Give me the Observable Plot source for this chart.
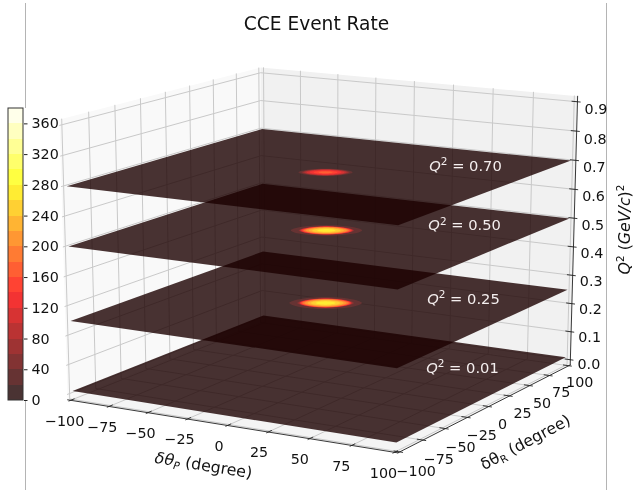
<!DOCTYPE html>
<html>
<head>
<meta charset="utf-8">
<script src="https://cdn.jsdelivr.net/npm/d3@7"></script>
<script src="https://cdn.jsdelivr.net/npm/@observablehq/plot@0.6"></script>
<style>
html,body{margin:0;padding:0;background:#fff}
#chart{position:relative;width:633px;height:490px;overflow:hidden}
#chart svg{position:absolute;left:0;top:0;background:transparent;display:block;filter:blur(.3px)}
</style>
</head>
<body>
<div id="chart"></div>
<script>
// ---- values ----
const titleText = "CCE Event Rate";
const sheets = [0.01, 0.25, 0.50, 0.70];
const xTicks = [-100,-75,-50,-25,0,25,50,75,100];
const yTicks = [-100,-75,-50,-25,0,25,50,75,100];
const zTicks = [0,0.1,0.2,0.3,0.4,0.5,0.6,0.7,0.8,0.9];
const barTicks = [0,40,80,120,160,200,240,280,320,360];
const bandStep = 20;
const bandCount = 19;
// half-length (degree) of each event-rate contour, from level 20 upward
const contour70 = [14.7,13,12.2,11.4,10.3,8.7,6.5,3.8];
const contour50 = [19.5,15.2,14.8,14.4,14.1,13.8,13.3,12.8,12.2,11.2,9.6,7.8,5];
const contour25 = [20,15.7,15,14.5,14.2,14,13.6,13.2,12.6,11.5,10,8.2,5.5];
const blobs = [
  {q:0.70, r:contour70, cx:-0.7, cy:2.35},
  {q:0.50, r:contour50, cx:-1.5, cy:4.7},
  {q:0.25, r:contour25, cx:-1.9, cy:4.5}
];

// ---- camera (elev 15, azim -60) ----
const el = 15*Math.PI/180, az = -60*Math.PI/180, dist = 8, zBox = 0.9;
const R = [-Math.sin(az), Math.cos(az), 0];
const U = [-Math.sin(el)*Math.cos(az), -Math.sin(el)*Math.sin(az), Math.cos(el)];
const N = [Math.cos(el)*Math.cos(az), Math.cos(el)*Math.sin(az), Math.sin(el)];
const dot = (a,b)=>a[0]*b[0]+a[1]*b[1]+a[2]*b[2];
const CX=324, CY=246.4, SX=366, SY=302.9;
function P(x,y,z){
  const p=[(x+100)/200-.5,(y+100)/200-.5,(z/.9-.5)*zBox];
  const f=dist/(dist-dot(p,N));
  return {px:CX+SX*dot(p,R)*f, py:CY-SY*dot(p,U)*f};
}
const PAD=2, ZMIN=-0.01875, ZMAX=0.91875, M=100+PAD;
const IN=3.33, OUT=1.67;

// ---- colours: matplotlib "hot" at alpha .8 over white ----
const clamp=v=>Math.max(0,Math.min(1,v));
const hot=t=>[clamp(.0416+t/.365*.9584),clamp((t-.365)/.381),clamp((t-.746)/.254)];
const bandT=i=>(i+.5)/bandCount;
const toCss=c=>`rgb(${c.map(v=>Math.round(v*255)).join(",")})`;
const raw=i=>toCss(hot(bandT(i)));
const blended=i=>toCss(hot(bandT(i)).map(v=>.8*v+.2));
const thresholds=d3.range(1,bandCount).map(i=>i*bandStep);
const colorScale={type:"threshold",domain:thresholds,range:d3.range(bandCount).map(blended)};
const ALPHA=.8;

// ---- geometry built from the values ----
const poly=(id,pts)=>pts.map(p=>({id,...P(...p)}));
const sheetRows=sheets.map(z=>poly("s"+z,[[-100,-100,z],[100,-100,z],[100,100,z],[-100,100,z]]));
const paneLeft=poly("l",[[-M,-M,ZMIN],[-M,M,ZMIN],[-M,M,ZMAX],[-M,-M,ZMAX]]);
const paneRight=poly("r",[[-M,M,ZMIN],[M,M,ZMIN],[M,M,ZMAX],[-M,M,ZMAX]]);
const paneFloor=poly("f",[[-M,-M,ZMIN],[M,-M,ZMIN],[M,M,ZMIN],[-M,M,ZMIN]]);
const gridRows=[
  ...xTicks.flatMap(x=>poly("gx"+x,[[x,-M,ZMIN],[x,M,ZMIN],[x,M,ZMAX]])),
  ...yTicks.flatMap(y=>poly("gy"+y,[[M,y,ZMIN],[-M,y,ZMIN],[-M,y,ZMAX]])),
  ...zTicks.flatMap(z=>poly("gz"+z,[[-M,-M,z],[-M,M,z],[M,M,z]]))
];
const axisRows=[
  ...poly("ax",[[-M,-M,ZMIN],[M,-M,ZMIN]]),
  ...poly("ay",[[M,-M,ZMIN],[M,M,ZMIN]]),
  ...poly("az",[[M,M,ZMIN],[M,M,ZMAX]])
];
const tickRows=[
  ...xTicks.flatMap(x=>poly("tx"+x,[[x,-M-OUT,ZMIN],[x,-M+IN,ZMIN]])),
  ...yTicks.flatMap(y=>poly("ty"+y,[[M+OUT,y,ZMIN],[M-IN,y,ZMIN]])),
  ...zTicks.flatMap(z=>poly("tz"+z,[[M-IN,M,z],[M+OUT,M,z]]))
];
const along=[Math.cos(Math.PI/6),.5], across=[.5,-Math.cos(Math.PI/6)];
const lens=(A,B,cx,cy,q,id)=>d3.range(0,48).map(k=>{
  const t=k/48*2*Math.PI,c=Math.cos(t),s=Math.sin(t),e=1.12;
  const a=A*Math.sign(c)*Math.abs(c)**e,b=B*Math.sign(s)*Math.abs(s)**e;
  return {id,...P(cx+a*along[0]+b*across[0],cy+a*along[1]+b*across[1],q)};
});
function blobMarks(b){
  const rows=b.r.flatMap((A,i)=>lens(A,A*.72,b.cx,b.cy,b.q,`b${b.q}-${i}`).map(d=>({...d,level:(i+1)*bandStep+1})));
  return Plot.line(rows,{x:"px",y:"py",z:"id",fill:"level",stroke:"none",curve:"linear-closed"});
}
const fmt=d=>d<0?`\u2212${-d}`:`${d}`;
const xLabels=xTicks.map(x=>{const t=(x+100)/200,p=P(x,-M,ZMIN);return {text:fmt(x),x:p.px-6-5*t,y:p.py+20.8};});
const yLabels=yTicks.map(y=>{const t=(y+100)/200,p=P(M,y,ZMIN);return {text:fmt(y),x:p.px+16.5-5.5*t,y:p.py+19.6-3*t};});
const zLabels=zTicks.map(z=>{const p=P(M,M,z);return {text:z.toFixed(1),x:p.px+18.5,y:p.py+5+3.5*z};});
const tickLabels=[...xLabels,...yLabels,...zLabels];
const qLabels=sheets.map(q=>{const p=P(57,56,q);return {text:`Q\u00b2 = ${q.toFixed(2)}`,px:p.px,py:p.py+(0.7-q)*5};});

const FONT='"DejaVu Sans"';
const lineOf=(rows,o)=>Plot.line(rows,{x:"px",y:"py",z:"id",curve:"linear",...o});
const closed=(rows,fill,o={})=>lineOf(rows,{fill,stroke:"none",curve:"linear-closed",...o});

const main=Plot.plot({
  width:633,height:490,margin:0,
  style:{fontFamily:FONT,background:"transparent"},
  x:{domain:[0,633],range:[0,633],axis:null},
  y:{domain:[0,490],range:[0,490],axis:null},
  color:colorScale,
  marks:[
    Plot.ruleX([25],{y1:3,y2:108,stroke:"#b4b4b4",strokeWidth:1}),
    Plot.ruleX([25],{y1:400,y2:490,stroke:"#b4b4b4",strokeWidth:1}),
    Plot.ruleX([606],{y1:3,y2:490,stroke:"#b4b4b4",strokeWidth:1}),
    closed(paneLeft,"#f9f9f9"),
    closed(paneRight,"#f1f1f1"),
    closed(paneFloor,"#f4f4f4"),
    lineOf(gridRows,{stroke:"#c9c9c9",strokeWidth:1}),
    lineOf(axisRows,{stroke:"#222",strokeWidth:.9}),
    lineOf(tickRows,{stroke:"#222",strokeWidth:.9}),
    closed(sheetRows[0],raw(0),{fillOpacity:ALPHA}),
    closed(sheetRows[1],raw(0),{fillOpacity:ALPHA}),
    blobMarks(blobs[2]),
    closed(sheetRows[2],raw(0),{fillOpacity:ALPHA}),
    blobMarks(blobs[1]),
    closed(sheetRows[3],raw(0),{fillOpacity:ALPHA}),
    blobMarks(blobs[0]),
    Plot.text(tickLabels,{x:"x",y:"y",text:"text",fontSize:14.3,fill:"#111"}),
    Plot.text(qLabels,{x:"px",y:"py",text:"text",fontSize:14.7,fill:"#f4eeee"}),
    Plot.text([titleText],{x:316,y:24,text:d=>d,fontSize:18.6,fill:"#111"}),
    Plot.text(["\u03b4\u03b8P (degree)"],{x:203,y:465,text:d=>d,fontSize:15.8,rotate:9,fill:"#111"}),
    Plot.text(["\u03b4\u03b8R (degree)"],{x:525,y:442,text:d=>d,fontSize:15.8,rotate:-28,fill:"#111"}),
    Plot.text(["Q\u00b2 (GeV/c)\u00b2"],{x:624,y:229,text:d=>d,fontSize:15.8,rotate:-90,fill:"#111"})
  ]
});

// rich text: italics, superscripts, subscripts as real text
const it=s=>`<tspan font-style="italic">${s}</tspan>`;
const sup=(s,after)=>`<tspan dy="-5.5" font-size="10.5">${s}</tspan><tspan dy="5.5">${after}</tspan>`;
const sub=(s,after,ital)=>`<tspan dy="3" font-size="10.5"${ital?' font-style="italic"':''}>${s}</tspan><tspan dy="-3">${after}</tspan>`;
main.querySelectorAll("text").forEach(n=>{
  const s=n.textContent;
  let m;
  if((m=s.match(/^Q\u00b2 = (.*)$/))) n.innerHTML=it("Q")+sup("2"," = "+m[1]);
  else if(s.startsWith("\u03b4\u03b8P")) n.innerHTML=it("\u03b4\u03b8")+sub("P"," (degree)",true);
  else if(s.startsWith("\u03b4\u03b8R")) n.innerHTML="\u03b4\u03b8"+sub("R"," (degree)",false);
  else if(s.startsWith("Q\u00b2 (")) n.innerHTML=it("Q")+sup("2"," (")+it("GeV/c")+")"+sup("2","");
});

// colour bar
const bands=d3.range(bandCount).map(i=>({lo:i*bandStep,hi:(i+1)*bandStep,v:i*bandStep+1}));
const bar=Plot.plot({
  width:60,height:320,marginLeft:8,marginRight:37,marginTop:0,marginBottom:0,
  style:{fontFamily:FONT,background:"transparent",fontSize:"14.3px",color:"#111"},
  x:{domain:[0,1],range:[8,23],axis:null},
  y:{domain:[0,bandCount*bandStep],range:[305,13]},
  color:colorScale,
  marks:[
    Plot.rect(bands,{x1:()=>0,x2:()=>1,y1:"lo",y2:"hi",fill:"v",inset:0,shapeRendering:"crispEdges"}),
    Plot.rect([0],{x1:0,x2:1,y1:()=>0,y2:()=>bandCount*bandStep,fill:"none",stroke:"#333",strokeWidth:1}),
    Plot.axisY({anchor:"right",ticks:barTicks,tickSize:3.5,tickPadding:4.5,label:null,tickFormat:d=>`${d}`,fontSize:14.3,stroke:"#222",fill:"#111"})
  ]
});
bar.style.top="95px";
const host=document.getElementById("chart");
host.append(main,bar);
</script>
</body>
</html>
